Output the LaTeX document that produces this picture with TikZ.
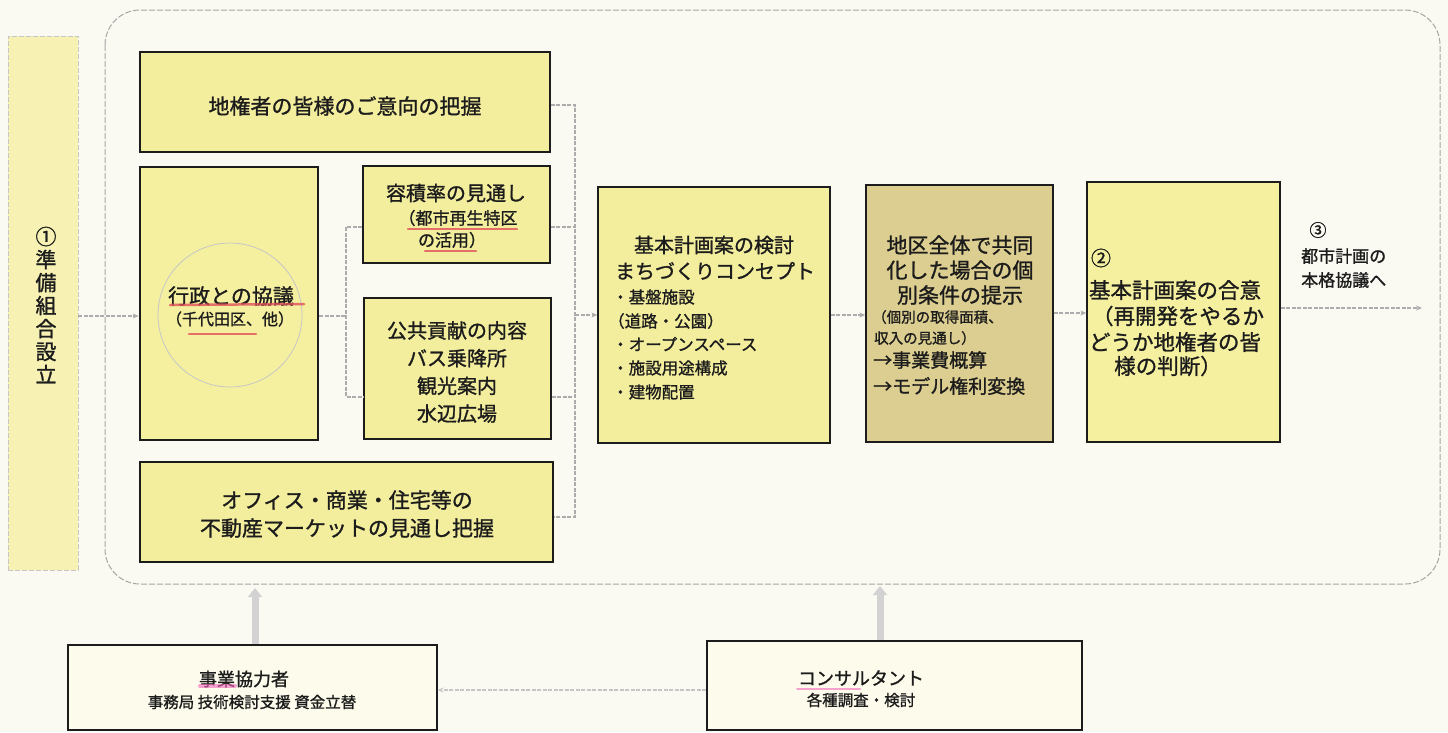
\documentclass[tikz,border=0pt]{standalone}
\usepackage{fontspec}
\setmainfont{Noto Sans CJK JP}[FakeBold=1.2]
\usetikzlibrary{arrows.meta}
\definecolor{bgcol}{HTML}{FBFAF2}
\definecolor{yel}{HTML}{F3EE9E}
\definecolor{yelB}{HTML}{F5F0A0}
\definecolor{tanc}{HTML}{DCCE90}
\definecolor{stripc}{HTML}{F7F2B4}
\definecolor{palec}{HTML}{FDFCEC}
\definecolor{ink}{HTML}{1C1C1C}
\definecolor{redline}{HTML}{E0505A}
\newcommand\fsz[2]{\fontsize{#1pt}{#2pt}\selectfont}
\begin{document}
\begin{tikzpicture}[x=1pt,y=-1pt,
  box/.style={draw=ink, line width=1.3pt, fill=yel, inner sep=0pt},
  txt/.style={inner sep=0pt, text=ink},
  conn/.style={draw=gray!65, line width=1.1pt, dash pattern=on 4pt off 1.5pt},
  arr/.style={conn, -{Stealth[length=6pt,width=5pt]}},
  bigarr/.style={draw=gray!35, line width=7pt, -{Triangle[length=9pt,width=14pt]}},
  hl/.style={draw=redline, line width=2.5pt, opacity=0.8, line cap=round}
]
\useasboundingbox (0,0) rectangle (1448,732);
\fill[bgcol] (0,0) rectangle (1448,732);

% outer dashed frame
\draw[draw=gray!70, line width=1pt, dash pattern=on 6pt off 2pt, rounded corners=35pt] (105,10) rectangle (1440,584);

% left strip
\node[draw=gray!45, dash pattern=on 5pt off 2pt, line width=0.8pt, fill=stripc, minimum width=70pt, minimum height=534pt, inner sep=0pt] (strip) at (43,303) {};
\node[txt, align=center, font=\fsz{21}{23}] (striptxt) at (46,305) {①\\準\\備\\組\\合\\設\\立};

% boxes
\node[box, minimum width=410pt, minimum height=100pt] (A) at (345,102) {};
\node[txt, font=\fsz{21}{25}] (Atxt) at (345,106) {地権者の皆様のご意向の把握};

\node[box, fill=yelB, line width=2.6pt, minimum width=178pt, minimum height=273pt] (B) at (229,303.5) {};
\draw[gray!45, line width=0.8pt] (230,315) circle[radius=72pt];
\node[txt, font=\fsz{21}{25}] (Bt1) at (231,296) {行政との協議};
\node[txt, font=\fsz{16}{20}] (Bt2) at (230,319) {（千代田区、他）};

\node[box, minimum width=187pt, minimum height=97pt] (C) at (456.5,214.5) {};
\node[txt, font=\fsz{20}{24}] (Ct1) at (456,193) {容積率の見通し};
\node[txt, font=\fsz{17}{20}] (Ct2) at (458,218) {（都市再生特区};
\node[txt, font=\fsz{17}{20}] (Ct3) at (452,240) {の活用）};

\node[box, minimum width=187pt, minimum height=141pt] (D) at (457.5,368.5) {};
\node[txt, align=center, font=\fsz{20}{27.7}] (Dtxt) at (457,372) {公共貢献の内容\\バス乗降所\\観光案内\\水辺広場};

\node[box, minimum width=413pt, minimum height=100pt] (E) at (346.5,512) {};
\node[txt, align=center, font=\fsz{21}{28}] (Etxt) at (347,514) {オフィス・商業・住宅等の\\不動産マーケットの見通し把握};

\node[box, minimum width=232pt, minimum height=256pt] (F) at (714,315) {};
\node[txt, font=\fsz{20}{24}] (Ft1) at (714,245) {基本計画案の検討};
\node[txt, font=\fsz{20}{24}] (Ft2) at (715,271) {まちづくりコンセプト};
\node[txt, anchor=west, font=\fsz{16.5}{20}] (Fb1) at (612,297) {・基盤施設};
\node[txt, anchor=west, font=\fsz{16.5}{20}] (Fb2) at (608,321) {（道路・公園）};
\node[txt, anchor=west, font=\fsz{16.5}{20}] (Fb3) at (612,344) {・オープンスペース};
\node[txt, anchor=west, font=\fsz{16.5}{20}] (Fb4) at (612,368) {・施設用途構成};
\node[txt, anchor=west, font=\fsz{16.5}{20}] (Fb5) at (612,392) {・建物配置};

\node[box, fill=tanc, minimum width=187pt, minimum height=257pt] (G) at (959.5,313.5) {};
\node[txt, align=center, font=\fsz{21}{25}] (Gt1) at (960,270) {地区全体で共同\\化した場合の個\\別条件の提示};
\node[txt, anchor=west, font=\fsz{14.5}{18}] (Gt2) at (872,317) {（個別の取得面積、};
\node[txt, anchor=west, font=\fsz{14.5}{18}] (Gt3) at (874,338) {収入の見通し）};
\node[txt, anchor=west, font=\fsz{19}{22}] (Gt4) at (873,360) {→事業費概算};
\node[txt, anchor=west, font=\fsz{19}{22}] (Gt5) at (873,386) {→モデル権利変換};

\node[box, fill=yelB, minimum width=193pt, minimum height=260pt] (H) at (1183.5,312) {};
\node[txt, font=\fsz{20}{24}] (Hn) at (1101,258) {②};
\node[txt, font=\fsz{21.5}{25}] (Ht1) at (1175,290) {基本計画案の合意};
\node[txt, font=\fsz{21.5}{25}] (Ht2) at (1178,316) {（再開発をやるか};
\node[txt, font=\fsz{21.5}{25}] (Ht3) at (1175,342) {どうか地権者の皆};
\node[txt, font=\fsz{21.5}{25}] (Ht4) at (1168,366) {様の判断）};

\node[txt, font=\fsz{17}{20}] (Rn) at (1318,230) {③};
\node[txt, anchor=west, font=\fsz{17}{20}] (Rt1) at (1301,256) {都市計画の};
\node[txt, anchor=west, font=\fsz{17}{20}] (Rt2) at (1301,280) {本格協議へ};

% bottom boxes
\node[draw=ink, line width=1.3pt, fill=palec, minimum width=369pt, minimum height=85pt, inner sep=0pt] (I) at (252.5,687.5) {};
\node[txt, font=\fsz{18}{22}] (It1) at (244,679) {事業協力者};
\node[txt, font=\fsz{15.5}{18}] (It2) at (252,702) {事務局\ 技術検討支援\ 資金立替};

\node[draw=ink, line width=1.3pt, fill=palec, minimum width=375pt, minimum height=89pt, inner sep=0pt] (J) at (894.5,685.5) {};
\node[txt, font=\fsz{18}{22}] (Jt1) at (861,678) {コンサルタント};
\node[txt, font=\fsz{15.5}{18}] (Jt2) at (861,700) {各種調査・検討};

% highlights
\draw[hl] (170,305) -- (304,304);
\draw[hl] (189,334) -- (256,334);
\draw[hl] (408,229) -- (517,229);
\draw[hl] (425,251) -- (476,251);
\draw[hl, draw=magenta!60, line width=4pt, opacity=0.6] (200,686) -- (235,686);
\draw[hl, draw=magenta!60, line width=2pt, opacity=0.6] (797,689) -- (860,689);

% connectors
\coordinate (midy) at (0,316);
\draw[arr] (strip.east |- midy) -- (B.west |- midy);
\coordinate (bl) at (346,316);
\coordinate (blt) at (346,227);
\coordinate (blb) at (346,397);
\draw[conn] (B.east |- midy) -- (bl);
\draw[conn] (C.west |- blt) -- (blt) -- (blb) -- (D.west |- blb);

\coordinate (br1) at (575,105);
\coordinate (br2) at (575,227);
\coordinate (br3) at (575,397);
\coordinate (br4) at (575,517);
\coordinate (brm) at (575,315);
\draw[conn] (A.east |- br1) -- (br1) -- (br4) -- (E.east |- br4);
\draw[conn] (C.east |- br2) -- (br2);
\draw[conn] (D.east |- br3) -- (br3);
\draw[arr] (brm) -- (F.west |- brm);
\draw[arr] (F.east |- brm) -- (G.west |- brm);
\coordinate (gh) at (0,313);
\draw[arr] (G.east |- gh) -- (H.west |- gh);
\coordinate (hend) at (1422,308);
\draw[arr] (H.east |- hend) -- (hend);

\coordinate (upI) at (255,588);
\coordinate (upJ) at (880,586);
\draw[bigarr] (I.north -| upI) -- (upI);
\draw[bigarr] (J.north -| upJ) -- (upJ);
\coordinate (jiy) at (0,690);
\draw[arr, draw=gray!45] (J.west |- jiy) -- (I.east |- jiy);
\end{tikzpicture}
\end{document}
